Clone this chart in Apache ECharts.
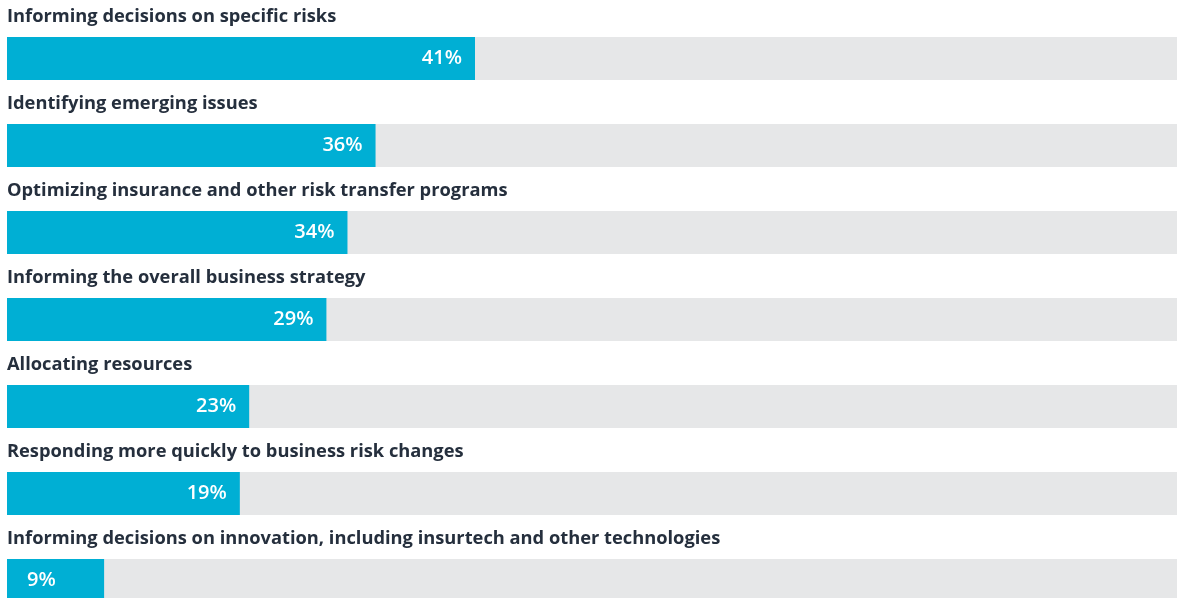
<!DOCTYPE html>
<html>
<head>
<meta charset="utf-8">
<script src="https://cdn.jsdelivr.net/npm/echarts@6/dist/echarts.min.js"></script>
<style>
html,body{margin:0;padding:0;background:#fff;overflow:hidden;width:1177px;height:598px;}
#chart{width:1177px;height:624px;}
</style>
</head>
<body>
<div id="chart"></div>
<script>
// Categories (top to bottom)
const categories = [
  "Informing decisions on specific risks",
  "Identifying emerging issues",
  "Optimizing insurance and other risk transfer programs",
  "Informing the overall business strategy",
  "Allocating resources",
  "Responding more quickly to business risk changes",
  "Informing decisions on innovation, including insurtech and other technologies"
];
// Percent values shown as labels
const valueLabels = [41, 36, 34, 29, 23, 19, 9];
// Bar lengths as drawn in the picture (percent of full track)
const barLengths = [40.0, 31.5, 29.1, 27.3, 20.7, 19.9, 8.3];
// Full track length
const trackMax = 100;

const chart = echarts.init(document.getElementById('chart'), null, {renderer: 'canvas'});

const trackData = categories.map(() => trackMax);
const barData = barLengths.map((v, i) => {
  const item = {value: v};
  if (valueLabels[i] < 15) {
    item.label = {position: 'insideLeft', distance: 20};
  }
  return item;
});

chart.setOption({
  animation: false,
  grid: {left: 7, right: 0, top: 15, bottom: 0},
  xAxis: {type: 'value', min: 0, max: trackMax, show: false},
  yAxis: {type: 'category', data: categories, inverse: true, show: false},
  series: [
    {
      type: 'bar',
      data: trackData,
      barWidth: 43,
      barGap: '-100%',
      itemStyle: {color: '#e6e7e8'},
      silent: true,
      label: {
        show: true,
        position: [0, -20],
        verticalAlign: 'middle',
        align: 'left',
        formatter: p => categories[p.dataIndex],
        color: '#252f3d',
        fontFamily: 'Open Sans',
        fontWeight: 700,
        fontSize: 18.3
      },
      z: 1
    },
    {
      type: 'bar',
      data: barData,
      barWidth: 43,
      barGap: '-100%',
      itemStyle: {color: '#00afd4'},
      label: {
        show: true,
        position: 'insideRight',
        distance: 13,
        formatter: p => valueLabels[p.dataIndex] + '%',
        color: '#ffffff',
        fontFamily: 'Open Sans',
        fontWeight: 600,
        fontSize: 20
      },
      z: 2
    }
  ]
});
</script>
</body>
</html>
